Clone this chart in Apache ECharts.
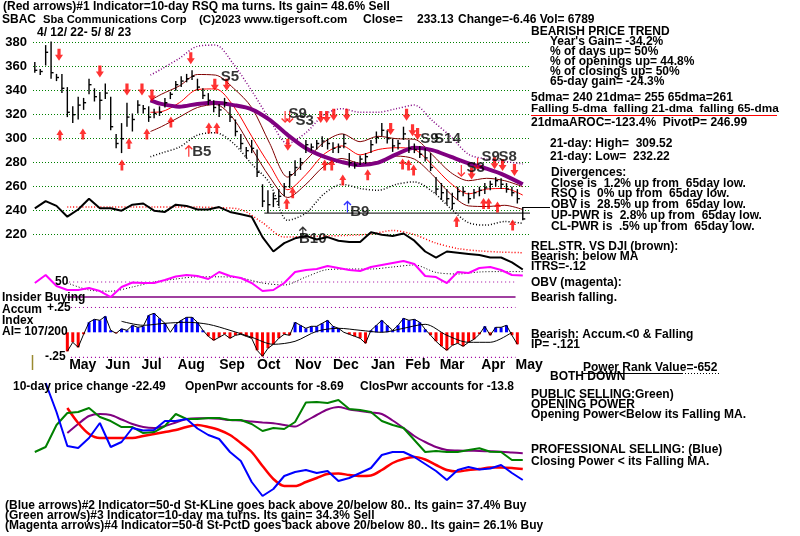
<!DOCTYPE html>
<html><head><meta charset="utf-8">
<script src="https://cdn.jsdelivr.net/npm/echarts@6/dist/echarts.min.js"></script>
<style>html,body{margin:0;padding:0;background:#fff}#c{width:800px;height:536px}</style>
</head><body><div id="c"></div>
<script>
// ---------- DATA (trading-day index 0 = 4/12/22 ... 270 = 5/8/23) ----------
const BAR_STEP = 3;
const barHigh = [364,358,378,381,354,354,343,327,335,334,350,342,339,346,335,304,313,330,321,332,328,327,325,327,334,339,348,352,354,357,350,342,338,332,329,334,327,316,304,293,299,291,262,257,255,258,263,273,282,284,299,296,299,302,300,297,296,304,288,281,286,288,299,306,313,307,300,299,310,299,296,294,292,288,268,263,258,255,260,260,255,258,260,263,265,268,267,263,260,258,243];
const barLow  = [355,353,361,350,348,338,318,313,316,324,337,331,316,333,307,292,288,310,306,321,321,314,317,319,326,333,340,343,347,349,340,333,328,322,318,326,314,302,291,284,288,268,243,238,243,244,252,259,269,274,288,290,291,293,291,288,288,292,276,275,278,279,288,296,302,296,289,291,299,288,288,284,281,273,254,249,245,241,249,252,246,250,252,254,257,260,258,255,252,246,232];
const barClose= [357,356,372,355,351,342,322,320,328,330,345,335,332,338,310,296,300,318,316,328,325,318,321,322,330,337,345,348,350,352,343,336,332,326,324,330,318,306,296,290,292,272,248,245,250,252,260,270,276,280,295,293,296,298,296,292,293,296,280,278,283,285,295,301,307,300,294,296,304,292,291,287,284,276,258,255,250,246,256,256,250,255,257,259,262,265,262,258,255,250,233.13];

const maDays  = [64,70,80,90,100,110,120,130,140,150,160,170,180,190,200,210,220,230,240,250,260,270];
const ma21    = [322,322.5,330,341,341.5,327,302,278,257.5,270,287,294,286.5,291,292.5,291,278,263,254,258,258.5,253];
const bandUp  = [332,337,344,353.5,353,342,326,296,268,282,297,304,297.5,302,300,299.5,286.5,272,265,267,265,260];
const bandLo  = [306,310,318,326,328.5,316.5,292,268,251,262,277,283.5,279.5,281,285.5,283,270,254,244,243.5,244.5,241];
const outerUp = [353,358,367,377,378,362,340,316,296,305,320,325,322,322,325,328,315,302,287,283,281,279];
const outerLo = [285,288,293,303,305,296,279,263,232,238,254,262,258.5,257,262,264,256,242,230,228,231,229.5];
const ma65    = [332,329,326.7,329,330,328,324.5,315.6,303,292,285,280.5,278,280,287,292.5,290.5,285,279.5,275,269.5,262];

const LINE_STEP = 6;
const relStr = [242,248,244,235,241,250,242,242,240,245,246,240,239,245,244,241,241,243,239,237,235,218,206,213,217,219,216,218,215,214,214,222,220,219,221,215,206,201,206,205,204,203,201,201,197,191];
const obv    = [47.5,67.5,40,30,30,35,27.5,12.5,37.5,48.75,47.5,47.5,55,63.75,67.5,65,57.5,75,65,60,47.5,27.5,30,47.5,75,80,82.5,90,85,80,77.5,87.5,92.5,97.5,102.5,95,65,62.5,47.5,75,72.5,85,87.5,80,67.5,66];
const openPwr  = [63,68,90,102,103,107,98,94,88,88,82,83,89,101,96,96,97,97,95,95,91,84,87,86,93,112.5,113,112,115,106,105,103,94,90,87,75,63,64,63,63,65,66.7,63.3,63,55,55];
const openMa   = [null,null,null,82,91,99,101,100,95.5,91,88,87,89,92.5,96,96.7,96.7,96.2,95,94.5,93.5,92.5,91.7,90,88.5,94,100,105.5,108,105.5,104,102.5,101,94.5,87,79,73,68,65,64.5,64.3,64,63.7,63.3,62.5,61.7];
const closePwr = [null,132,103,69,67,77,92,68,73,87,84.5,85,94,94,96,86.5,80,76,63,54,33,19,26,39,43,45,42,44,34,37,42,47,60,63,63,58,51,44,35,45,48,45.5,46.5,50,42,35];
const closeMa  = [null,null,null,107,92,81,77,77,77,77,79,81,83,85,88,90,88,85,80,72,63,49,36,29,29,33,37,41,41.5,40,39,39.5,45,52,56,58,55.5,50,45,43.5,45,46,47.5,47.5,47,46];

const MA_START = 18, MA_STEP = 12;
const relMa = [243,243,243,243,243,243,243,242.5,241,230,218,218.5,219,219.5,220.5,223.5,220,213,208.5,206.5,205.5,205];
const obvMa = [47.5,30,27,37.5,50,57.5,63,63,60,47.5,42.5,62.5,81,82.5,82.5,87.5,92.5,74,70,75,76,76];

const accum = [null,null,null,null,null,null,-0.19,-0.1,-0.15,-0.02,0.1,0.13,0.12,0.16,0.02,-0.01,0.035,0.02,0.07,0.05,0.06,0.17,0.19,0.14,0.09,0,0.08,0.12,0.15,0.15,0.1,0.02,-0.04,-0.08,-0.05,-0.02,-0.06,-0.03,-0.02,-0.04,-0.06,-0.18,-0.24,-0.16,-0.12,-0.06,-0.02,-0.03,0.1,0.07,0.04,0.06,0.06,0.09,0.12,0.06,0.04,0,-0.02,-0.04,-0.06,-0.11,0.02,0.07,0.12,0.07,0.02,0.07,0.14,0.12,0.13,0.1,0.03,-0.03,-0.09,-0.14,-0.18,-0.13,-0.11,-0.14,-0.1,-0.07,-0.02,0.06,-0.03,0.05,0.05,0.07,-0.03,-0.12,null];
const ACC_MA_START = 48;
const accumMa = [0.11,0.07,0.09,0.1,0.08,0.02,-0.05,-0.12,-0.09,0.01,0.04,0.02,0,0.04,0.08,-0.03,-0.1,-0.1,0];

const priceTicks = {min:220, max:380, step:20};
const monthPos   = [19,39,59,79,102,123,144,165,186,205,224,247,266];
const monthNames = ['May','Jun','Jul','Aug','Sep','Oct','Nov','Dec','Jan','Feb','Mar','Apr','May'];

// signal arrows (day, price)
const downArrowDay   = [13.4,36,51,59.3,64.8,86.3,99.6,106.2,140,158.2,161.5,165.4,172.6,196.9,205.7,209,211.8,241.7,254.4,258.8,265.4];
const downArrowPrice = [370,356,341,341,336,367,345,345,295,318,318,320,320,308,320,307,304,271,279.5,278,274];
const upArrowDay   = [13.9,26.6,48.2,52.1,62,75.3,96.3,100.7,139.4,142.7,160.4,164.3,170.4,184.2,203.5,206.8,209.6,233.4,248.3,251.1,256,264.4];
const upArrowPrice = [303,304,278,296,304,314,309,309,246,255,278,278,265.5,270,279,278,274,231,246,246,243,228];
const thinUp   = [[85.2,290,'#ff0000'],[148.3,222,'#000000'],[173,243.5,'#0000ff']];
const thinDown = [[138.5,318],[141,318],[236,273],[245,279]];
const sigText  = ['S5','B5','S9','S3','S9','S14','S3','S9','S8','B9','B10'];
const sigDay   = [107.9,92.4,145.5,149.3,218.4,228.3,243.9,252.2,261.6,179.8,153.8];
const sigPrice = [351.4,288.9,320.6,314.8,299.75,299.75,275.6,284.75,284.75,239.4,216.9];
const supportLevel = 238, supportFrom = 127;
const OBV_MID = 50, INSIDER = 12.5, ACC_LEVEL = 0.25;

// ---------- helpers ----------
const steps = (start, step, arr) => arr.map((v, i) => [start + i * step, v]);
const atDays = (ds, arr) => arr.map((v, i) => [ds[i], v]);
const F = 'Liberation Sans';

const chart = echarts.init(document.getElementById('c'), null, {renderer:'canvas'});
const X = (g, extra) => Object.assign({type:'value', gridIndex:g, min:-1, max:274, show:false}, extra || {});
const gl = (g) => ({left:33, width:497, top:g[0], height:g[1]});

const line = (name, data, color, width, xi, yi, extra) => Object.assign({
  name, type:'line', data, xAxisIndex:xi, yAxisIndex:yi, symbol:'none', silent:true,
  lineStyle:{color, width}, z:3
}, extra || {});

const downPath = 'path://M3,0 L7,0 L7,6 L10,6 L5,12 L0,6 L3,6 Z';
const upPath   = 'path://M5,0 L10,6 L7,6 L7,12 L3,12 L3,6 L0,6 Z';
const thinUpPath = 'path://M4.4,2 L5.6,2 L5.6,12 L4.4,12 Z M5,0 L9,4 L8,5 L5,2 L2,5 L1,4 Z';
const thinDnPath = 'path://M4.4,0 L5.6,0 L5.6,10 L4.4,10 Z M5,12 L9,8 L8,7 L5,10 L2,7 L1,8 Z';

const texts = [
  [3,7,'(Red arrows)#1 Indicator=10-day RSQ ma turns. Its gain= 48.6% Sell'],
  [2,20,'SBAC'],[43,20,'Sba Communications Corp',11.2],[199,20,'(C)2023 www.tigersoft.com',11.6],
  [363,20,'Close='],[417,20,'233.13'],[458,20,'Change=-6.46 Vol= 6789'],
  [37,33,'4/ 12/ 22- 5/ 8/ 23'],
  [531,32,'BEARISH PRICE TREND'],
  [550,42,"Year's Gain= -34.2%"],[550,52,'% of days up= 50%'],[550,62,'% of openings up= 44.8%'],
  [550,72,'% of closings up= 50%'],[550,82,'65-day gain= -24.3%'],
  [531,98,'5dma= 240 21dma= 255 65dma=261'],
  [531,109,'Falling 5-dma  falling 21-dma  falling 65-dma',11.8],
  [531,123,'21dmaAROC=-123.4%  PivotP= 246.99'],
  [550,144,'21-day: High=  309.52'],[550,157,'21-day: Low=  232.22'],
  [551,173,'Divergences:'],[551,184,'Close is  1.2% up from  65day low.'],
  [551,194,'RSQ is  0% up from  65day low.'],[551,205,'OBV is  28.5% up from  65day low.'],
  [551,216,'UP-PWR is  2.8% up from  65day low.'],[551,227,'CL-PWR is  .5% up from  65day low.'],
  [531,247,'REL.STR. VS DJI (brown):'],[531,257,'Bearish: below MA'],[531,267,'ITRS=-.12'],
  [531,283,'OBV (magenta):'],[531,298,'Bearish falling.'],
  [531,335,'Bearish: Accum.<0 & Falling'],[531,345,'IP= -.121'],
  [583,368,'Power Rank Value=-652'],[550,377,'BOTH DOWN'],
  [531,395,'PUBLIC SELLING:Green)'],[531,405,'OPENING POWER'],[531,415,'Opening Power<Below its Falling MA.'],
  [531,450,'PROFESSIONAL SELLING: (Blue)'],[531,462,'Closing Power < its Falling MA.'],
  [55,282,'50'],[2,298,'Insider Buying'],[2,310,'Accum'],[47,308,'+.25'],[2,321,'Index'],
  [2,332,'AI= 107/200'],[45,357,'-.25'],
  [13,387,'10-day price change -22.49'],[185,387,'OpenPwr accounts for -8.69'],[360,387,'ClosPwr accounts for -13.8'],
  [5,506,'(Blue arrows)#2 Indicator=50-d St-KLine goes back above 20/below 80.. Its gain= 37.4% Buy'],
  [5,516,'(Green arrows)#3 Indicator=10-day ma turns. Its gain= 34.3% Sell'],
  [5,526,'(Magenta arrows)#4 Indicator=50-d St-PctD goes back above 20/below 80.. Its gain= 26.1% Buy']
];

const graphic = texts.map(([x, y, t, fs]) => ({
  type:'text', x, y, silent:true, z:10,
  style:{text:t, fill:'#000', fontFamily:F, fontWeight:'bold', fontSize:fs || 12, verticalAlign:'middle'}
}));
graphic.push(
  {type:'line', shape:{x1:531,y1:115.5,x2:777,y2:115.5}, style:{stroke:'#ff0000', lineWidth:1}, z:10},
  {type:'line', shape:{x1:583,y1:373.5,x2:682,y2:373.5}, style:{stroke:'#000', lineWidth:1}, z:10},
  {type:'line', shape:{x1:682,y1:373.5,x2:720,y2:373.5}, style:{stroke:'#000', lineWidth:1, lineDash:[1,2]}, z:10},
  {type:'line', shape:{x1:523,y1:207.5,x2:550,y2:207.5}, style:{stroke:'#000', lineWidth:1}, z:10},
  {type:'line', shape:{x1:32.5,y1:355,x2:32.5,y2:370}, style:{stroke:'#9a8a30', lineWidth:1.5}, z:10}
);

const option = {
  animation:false,
  backgroundColor:'#fff',
  textStyle:{fontFamily:F},
  grid:[gl([42.7,192]), gl([42.7,240]), gl([258,44]), gl([307.3,50]), gl([375,140])],
  xAxis:[X(0), X(1), X(2),
    X(3, {show:true, axisLine:{show:false}, axisTick:{show:false}, splitLine:{show:false},
      axisLabel:{customValues:monthPos, formatter:(v)=>monthNames[monthPos.indexOf(v)],
        align:'left', verticalAlign:'top', margin:1, color:'#000', fontFamily:F, fontWeight:'bold', fontSize:14}}),
    X(4)],
  yAxis:[
    {type:'value', gridIndex:0, min:priceTicks.min, max:priceTicks.max, interval:priceTicks.step,
      axisLine:{show:false}, axisTick:{show:false},
      axisLabel:{margin:6, color:'#000', fontFamily:F, fontWeight:'bold', fontSize:13},
      splitLine:{lineStyle:{color:'#008000', type:[1,2], width:1}}},
    {type:'value', gridIndex:1, min:180, max:380, show:false},
    {type:'value', gridIndex:2, min:0, max:110, show:false},
    {type:'value', gridIndex:3, min:-ACC_LEVEL, max:ACC_LEVEL, show:false},
    {type:'value', gridIndex:4, min:0, max:140, show:false}
  ],
  graphic,
  series:[
    // price bands and MAs
    line('outerUp', atDays(maDays, outerUp), '#800080', 1.5, 0, 0, {smooth:0.3, lineStyle:{color:'#800080', width:1.5, type:[1,2]}}),
    line('outerLo', atDays(maDays, outerLo), '#000', 1.5, 0, 0, {smooth:0.3, lineStyle:{color:'#000', width:1.5, type:[1,2]}}),
    line('bandUp', atDays(maDays, bandUp), '#800000', 1, 0, 0, {smooth:0.3}),
    line('bandLo', atDays(maDays, bandLo), '#800000', 1, 0, 0, {smooth:0.3}),
    line('ma21', atDays(maDays, ma21), '#ff0000', 1, 0, 0, {smooth:0.3}),
    line('ma65', atDays(maDays, ma65), '#800080', 4, 0, 0, {smooth:0.3, z:4}),
    {
      name:'price', type:'custom', xAxisIndex:0, yAxisIndex:0, z:5, silent:true,
      data: barHigh.map((h, i) => [i * BAR_STEP, h, barLow[i], barClose[i]]),
      encode:{x:0, y:[1,2]},
      renderItem:(params, api) => {
        const d = api.value(0);
        const pH = api.coord([d, api.value(1)]), pL = api.coord([d, api.value(2)]), pC = api.coord([d, api.value(3)]);
        return {type:'group', children:[
          {type:'line', shape:{x1:pH[0], y1:pH[1], x2:pL[0], y2:pL[1]}, style:{stroke:'#000', lineWidth:1.4}},
          {type:'line', shape:{x1:pC[0], y1:pC[1], x2:pC[0] + 2.5, y2:pC[1]}, style:{stroke:'#000', lineWidth:1.4}}
        ]};
      }
    },
    // relative strength overlay
    line('relStr', steps(0, LINE_STEP, relStr), '#000', 2, 1, 1, {z:4}),
    line('relMa', steps(MA_START, MA_STEP, relMa), '#ff0000', 1.5, 1, 1, {smooth:0.3, lineStyle:{color:'#ff0000', width:1.5, type:[1,2]}}),
    line('support', [[supportFrom, supportLevel], [274, supportLevel]], '#000', 1, 1, 1),
    {type:'scatter', xAxisIndex:1, yAxisIndex:1, symbol:downPath, symbolSize:[8,12], z:8, silent:true,
      itemStyle:{color:'#ff0000'}, data: downArrowDay.map((d, i) => [d, downArrowPrice[i]])},
    {type:'scatter', xAxisIndex:1, yAxisIndex:1, symbol:upPath, symbolSize:[7,11], z:8, silent:true,
      itemStyle:{color:'#ff0000'}, data: upArrowDay.map((d, i) => [d, upArrowPrice[i]])},
    {type:'scatter', xAxisIndex:1, yAxisIndex:1, symbol:thinUpPath, symbolSize:[8,12], z:8, silent:true,
      data: thinUp.map(a => ({value:[a[0], a[1]], itemStyle:{color:a[2]}}))},
    {type:'scatter', xAxisIndex:1, yAxisIndex:1, symbol:thinDnPath, symbolSize:[8,12], z:8, silent:true,
      itemStyle:{color:'#ff0000'}, data: thinDown.map(a => [a[0], a[1]])},
    {type:'scatter', xAxisIndex:1, yAxisIndex:1, symbolSize:0.1, z:9, silent:true,
      itemStyle:{color:'transparent'},
      label:{show:true, position:'inside', formatter:'{b}', color:'#000', fontFamily:F, fontWeight:'bold', fontSize:15},
      data: sigText.map((t, i) => ({name:t, value:[sigDay[i], sigPrice[i]]}))},
    // OBV panel
    line('obvMid', [[19, OBV_MID], [266, OBV_MID]], '#a000a0', 1, 2, 2, {lineStyle:{color:'#a000a0', width:1.2, type:[1,3]}, z:2}),
    line('insider', [[18, INSIDER], [266, INSIDER]], '#800080', 1.5, 2, 2, {z:2}),
    line('obvMa', steps(MA_START, MA_STEP, obvMa), '#000', 1, 2, 2, {smooth:0.3, lineStyle:{color:'#000', width:1, type:[1,2]}}),
    line('obv', steps(0, LINE_STEP, obv), '#ff00ff', 2, 2, 2, {z:4}),
    // Accumulation panel
    line('accUp', [[20, ACC_LEVEL], [266, ACC_LEVEL]], '#a000a0', 1, 3, 3, {lineStyle:{color:'#a000a0', width:1.2, type:[1,3]}, z:2}),
    line('accLo', [[20, -ACC_LEVEL], [266, -ACC_LEVEL]], '#a000a0', 1, 3, 3, {lineStyle:{color:'#a000a0', width:1.2, type:[1,3]}, z:2}),
    {type:'bar', xAxisIndex:3, yAxisIndex:3, barWidth:3, silent:true,
      data: accum.map((v, i) => v === null ? null : {value:[i * BAR_STEP, v], itemStyle:{color: v >= 0 ? '#0000ff' : '#ff0000'}}).filter(Boolean)},
    line('accOutline', accum.map((v, i) => [i * BAR_STEP, v]), '#000', 1, 3, 3, {connectNulls:false, z:4}),
    line('accMa', steps(ACC_MA_START, MA_STEP, accumMa), '#000', 1, 3, 3, {smooth:0.3, z:5}),
    // Power panel
    line('openMa', steps(0, LINE_STEP, openMa), '#800080', 2, 4, 4, {smooth:0.3}),
    line('closeMa', steps(0, LINE_STEP, closeMa), '#ff0000', 2.5, 4, 4, {smooth:0.3}),
    line('openPwr', steps(0, LINE_STEP, openPwr), '#008000', 2, 4, 4, {z:4}),
    line('closePwr', steps(0, LINE_STEP, closePwr), '#0000ff', 2, 4, 4, {z:4})
  ]
};
chart.setOption(option);
</script></body></html>
